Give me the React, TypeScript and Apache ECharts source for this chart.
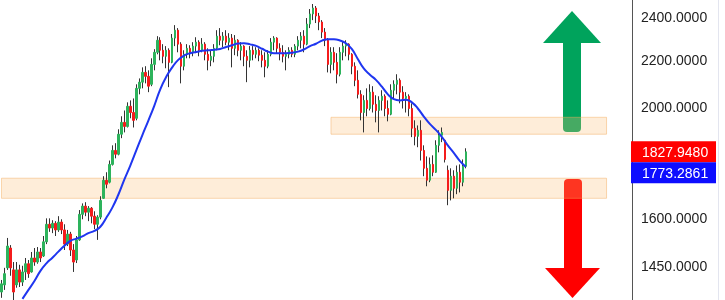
import { useEffect, useRef } from "react";
import * as echarts from "echarts";

// [open, close, low, high]
const CANDLES: number[][] = [
  [1377, 1400, 1361, 1411], [1397, 1429, 1383, 1446], [1446, 1511, 1440, 1536], [1505, 1446, 1423, 1514],
  [1440, 1377, 1350, 1463], [1397, 1440, 1389, 1463], [1440, 1405, 1391, 1455], [1405, 1434, 1394, 1452],
  [1434, 1458, 1411, 1475], [1458, 1429, 1417, 1469], [1434, 1475, 1432, 1493], [1475, 1463, 1452, 1505],
  [1463, 1493, 1458, 1508], [1493, 1475, 1463, 1505], [1481, 1524, 1478, 1542], [1524, 1579, 1517, 1598],
  [1579, 1567, 1555, 1598], [1567, 1582, 1551, 1592], [1582, 1561, 1542, 1589], [1561, 1586, 1555, 1605],
  [1586, 1561, 1548, 1595], [1561, 1517, 1499, 1579], [1517, 1548, 1511, 1561], [1548, 1499, 1481, 1555],
  [1499, 1463, 1434, 1517], [1469, 1530, 1460, 1542], [1530, 1611, 1527, 1625], [1611, 1638, 1595, 1647],
  [1638, 1618, 1605, 1651], [1618, 1631, 1589, 1638], [1631, 1605, 1582, 1635], [1605, 1579, 1564, 1621],
  [1579, 1602, 1530, 1608], [1602, 1657, 1595, 1671], [1664, 1726, 1662, 1740], [1726, 1712, 1698, 1754],
  [1719, 1782, 1715, 1796], [1782, 1833, 1778, 1852], [1833, 1819, 1804, 1860], [1819, 1894, 1815, 1913],
  [1894, 1940, 1879, 1964], [1940, 1924, 1901, 1987], [1924, 2004, 1920, 2020], [2004, 1979, 1956, 2028],
  [1979, 1948, 1920, 2036], [1956, 2078, 1948, 2095], [2078, 2104, 2053, 2120], [2104, 2146, 2078, 2168],
  [2146, 2129, 2099, 2173], [2129, 2087, 2062, 2155], [2095, 2181, 2087, 2208], [2181, 2235, 2155, 2249],
  [2235, 2290, 2226, 2309], [2290, 2244, 2199, 2304], [2244, 2217, 2186, 2272], [2217, 2244, 2164, 2263],
  [2244, 2190, 2083, 2253], [2190, 2300, 2186, 2319], [2300, 2337, 2263, 2361], [2337, 2272, 2235, 2347],
  [2272, 2173, 2099, 2281], [2173, 2226, 2155, 2244], [2226, 2253, 2208, 2272], [2253, 2235, 2208, 2267],
  [2235, 2263, 2217, 2281], [2263, 2281, 2231, 2304], [2281, 2244, 2217, 2290], [2244, 2272, 2235, 2300],
  [2272, 2226, 2199, 2281], [2226, 2199, 2155, 2253], [2199, 2217, 2173, 2244], [2217, 2253, 2190, 2272],
  [2253, 2309, 2244, 2337], [2309, 2290, 2267, 2347], [2290, 2309, 2258, 2328], [2309, 2281, 2267, 2337],
  [2281, 2300, 2244, 2323], [2300, 2253, 2168, 2319], [2253, 2290, 2222, 2314], [2290, 2244, 2217, 2295],
  [2244, 2263, 2199, 2281], [2263, 2217, 2173, 2267], [2217, 2199, 2104, 2244], [2199, 2244, 2168, 2263],
  [2244, 2226, 2199, 2263], [2226, 2244, 2208, 2258], [2244, 2222, 2195, 2253], [2222, 2199, 2168, 2244],
  [2199, 2173, 2125, 2235], [2173, 2226, 2164, 2244], [2226, 2281, 2217, 2300], [2281, 2300, 2244, 2309],
  [2300, 2253, 2231, 2304], [2253, 2235, 2199, 2276], [2235, 2217, 2190, 2267], [2217, 2226, 2155, 2244],
  [2226, 2244, 2208, 2258], [2244, 2226, 2213, 2258], [2226, 2263, 2213, 2272], [2263, 2290, 2244, 2309],
  [2290, 2309, 2253, 2328], [2309, 2272, 2235, 2337], [2272, 2366, 2267, 2395], [2366, 2415, 2347, 2439],
  [2415, 2444, 2385, 2464], [2444, 2405, 2371, 2454], [2405, 2376, 2337, 2420], [2376, 2328, 2300, 2385],
  [2328, 2290, 2263, 2347], [2290, 2181, 2146, 2300], [2181, 2235, 2142, 2258], [2235, 2190, 2155, 2258],
  [2190, 2138, 2099, 2231], [2138, 2235, 2129, 2258], [2235, 2263, 2199, 2286], [2263, 2272, 2217, 2290],
  [2272, 2226, 2199, 2276], [2226, 2173, 2138, 2231], [2173, 2112, 2087, 2190], [2112, 2053, 2036, 2155],
  [2053, 1979, 1948, 2070], [1979, 2028, 1901, 2049], [2028, 1995, 1964, 2078], [1995, 2062, 1987, 2095],
  [2062, 2012, 1979, 2087], [2012, 1987, 1940, 2049], [1987, 2028, 1901, 2045], [2028, 2045, 1987, 2070],
  [2045, 1995, 1964, 2053], [1995, 1972, 1944, 2028], [1972, 2070, 1968, 2095], [2070, 2095, 2036, 2112],
  [2095, 2112, 2053, 2138], [2112, 2062, 2016, 2120], [2062, 2036, 1995, 2087], [2036, 2045, 1979, 2062],
  [2045, 1995, 1964, 2053], [1995, 1917, 1883, 2016], [1917, 1886, 1852, 1948], [1886, 1909, 1845, 1928],
  [1909, 1833, 1796, 1948], [1833, 1768, 1740, 1852], [1768, 1726, 1705, 1811], [1726, 1782, 1719, 1807],
  [1782, 1754, 1740, 1815], [1754, 1852, 1752, 1871], [1852, 1890, 1826, 1909], [1890, 1901, 1864, 1920],
  [1871, 1800, 1789, 1873], [1761, 1691, 1641, 1778], [1691, 1740, 1657, 1768], [1740, 1698, 1664, 1761],
  [1698, 1754, 1678, 1778], [1754, 1719, 1684, 1782], [1719, 1775, 1705, 1800], [1775, 1827.948, 1768, 1841],
];

// moving average: [candle index, value]
const MA_POINTS: number[][] = [
  [7, 1358], [9, 1383], [11, 1408], [13, 1437], [15, 1459], [17, 1476], [19, 1494], [21, 1512],
  [23, 1527], [25, 1534], [27, 1541], [29, 1551], [31, 1558], [33, 1571], [35, 1600], [37, 1633],
  [39, 1676], [41, 1728], [43, 1778], [45, 1833], [47, 1890], [49, 1946], [51, 2006], [53, 2074],
  [55, 2127], [57, 2168], [59, 2201], [61, 2221], [63, 2231], [65, 2236], [67, 2242], [69, 2244],
  [71, 2247], [73, 2250], [75, 2259], [77, 2267], [79, 2275], [81, 2276], [83, 2271], [85, 2264],
  [87, 2251], [89, 2238], [91, 2231], [93, 2231], [95, 2231], [97, 2233], [99, 2238], [101, 2248],
  [103, 2263], [105, 2274], [107, 2288], [109, 2295], [111, 2295], [113, 2289], [115, 2276], [117, 2249],
  [119, 2204], [121, 2162], [123, 2136], [125, 2114], [127, 2085], [129, 2053], [131, 2033], [133, 2028],
  [135, 2031], [137, 2020], [139, 1995], [141, 1963], [143, 1934], [145, 1911], [147, 1884], [149, 1852],
  [151, 1824], [153, 1795], [155, 1773.2861],
];

const TICK_VALUES = [2400, 2200, 2000, 1600, 1450];
const PRICE_MIN = 1355;
const PRICE_MAX = 2484;
const TOTAL_SLOTS = 211;
const LAST_PRICE = 1827.948;
const LAST_MA = 1773.2861;

// zones: [first slot, last slot, upper price, lower price]
const ZONES: number[][] = [
  [110, 202, 1960, 1894],
  [0, 202, 1733, 1664],
];

const GRID_RIGHT = 93;
const FONT = "Liberation Sans, Arial, sans-serif";

export default function App() {
  const ref = useRef<HTMLDivElement>(null);

  useEffect(() => {
    if (!ref.current) return;
    const chart = echarts.init(ref.current, undefined, { renderer: "svg" });
    const ln = Math.log;
    const cats = Array.from({ length: TOTAL_SLOTS }, (_, i) => String(i));
    const wickData = CANDLES.map(([o, c, l, h]) => [ln(o), ln(c), ln(l), ln(h)]);
    const bodyData = CANDLES.map(([o, c]) => [ln(o), ln(c), ln(Math.min(o, c)), ln(Math.max(o, c))]);

    const W = 725;
    const arrows: any[] = [
      { type: "rect", z: 1, shape: { x: 563, y: 40, width: 18, height: 92, r: [0, 0, 4, 4] }, style: { fill: "#00a35c" } },
      { type: "polygon", z: 1, shape: { points: [[543, 43], [572, 11], [601, 43]] }, style: { fill: "#00a35c" } },
      { type: "rect", z: 1, shape: { x: 564, y: 179, width: 18, height: 91, r: [4, 4, 0, 0] }, style: { fill: "#ff0000" } },
      { type: "polygon", z: 1, shape: { points: [[545, 268], [600, 268], [572.5, 298]] }, style: { fill: "#ff0000" } },
      { type: "line", z: 1, shape: { x1: 718.5, y1: 0, x2: 718.5, y2: 300 }, style: { stroke: "#e3e5ef", lineWidth: 1 } },
    ];

    chart.setOption({
      animation: false,
      grid: { left: 0, right: GRID_RIGHT, top: 0, bottom: 0 },
      xAxis: { type: "category", data: cats, show: false, boundaryGap: true },
      yAxis: {
        type: "value",
        position: "right",
        min: ln(PRICE_MIN),
        max: ln(PRICE_MAX),
        axisLine: { show: true, lineStyle: { color: "#555", width: 1 } },
        axisTick: { show: false },
        splitLine: { show: false },
        axisLabel: {
          customValues: TICK_VALUES.map(ln),
          formatter: (v: number) => Math.exp(v).toFixed(4),
          color: "#222",
          fontSize: 14,
          fontFamily: FONT,
          margin: 9,
        },
      },
      series: [
        {
          type: "candlestick",
          data: wickData,
          barWidth: 1,
          itemStyle: { color: "#333", color0: "#333", borderColor: "#333", borderColor0: "#333", borderWidth: 1 },
        },
        {
          type: "candlestick",
          data: bodyData,
          barWidth: 2,
          itemStyle: { color: "#2db35c", color0: "#f41c1c", borderColor: "#2db35c", borderColor0: "#f41c1c", borderWidth: 1 },
          markArea: {
            silent: true,
            label: { show: false },
            itemStyle: { color: "rgba(250,190,120,0.28)", borderColor: "rgba(245,170,90,0.45)", borderWidth: 1 },
            data: ZONES.map(([a, b, top, bottom]) => [
              { xAxis: String(a), yAxis: ln(top) },
              { xAxis: String(b), yAxis: ln(bottom) },
            ]),
          },
        },
        {
          type: "line",
          data: MA_POINTS.map(([i, p]) => [i, ln(p)]),
          showSymbol: false,
          smooth: true,
          lineStyle: { color: "#1f36f0", width: 2 },
          z: 5,
        },
      ],
      graphic: arrows,
    });

    const yLast = chart.convertToPixel({ yAxisIndex: 0 }, ln(LAST_PRICE)) as number;
    const yMa = chart.convertToPixel({ yAxisIndex: 0 }, ln(LAST_MA)) as number;
    const H = 21;
    const tagX = W - GRID_RIGHT - 1;
    const redTop = yLast - H / 2;
    const blueTop = Math.max(redTop + H, yMa - H / 2);
    const tags: any[] = [
      { type: "rect", z: 100, shape: { x: tagX, y: redTop, width: 85, height: H }, style: { fill: "#ff0000" } },
      { type: "text", z: 101, style: { x: tagX + 11, y: redTop + H / 2, text: LAST_PRICE.toFixed(4), fill: "#fff", fontSize: 14, fontFamily: FONT, verticalAlign: "middle", align: "left" } },
      { type: "rect", z: 100, shape: { x: tagX, y: blueTop, width: 85, height: H }, style: { fill: "#0d0dff" } },
      { type: "text", z: 101, style: { x: tagX + 11, y: blueTop + H / 2, text: LAST_MA.toFixed(4), fill: "#fff", fontSize: 14, fontFamily: FONT, verticalAlign: "middle", align: "left" } },
    ];
    chart.setOption({ graphic: [...arrows, ...tags] });

    return () => chart.dispose();
  }, []);

  return <div ref={ref} style={{ position: "fixed", left: 0, top: 0, width: 725, height: 300 }} />;
}
